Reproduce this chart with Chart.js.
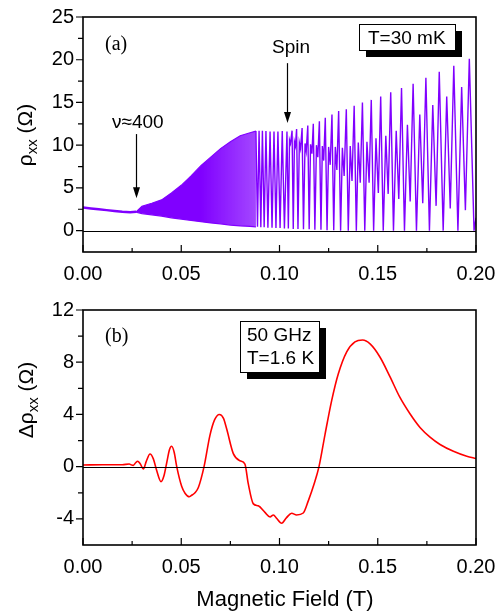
<!DOCTYPE html>
<html lang="en">
<head>
<meta charset="UTF-8">
<title>Magnetoresistance and microwave photoresistance</title>
<style>
body { margin: 0; background: #fff; }
#wrap { position: relative; width: 498px; height: 614px; }
#wrap canvas { position: absolute; left: 0; }
#chartA { top: 0; }
#chartB { top: 290px; }
</style>
</head>
<body>
<div id="wrap">
<canvas id="chartA" width="498" height="290"></canvas>
<canvas id="chartB" width="498" height="324"></canvas>
</div>
<script src="https://cdn.jsdelivr.net/npm/chart.js@4.4.0/dist/chart.umd.min.js"></script>
<script>
// axis ticks
var xMajor = [0, 0.05, 0.10, 0.15, 0.20];
var xMinor = [0.025, 0.075, 0.125, 0.175];
var yMajorA = [0, 5, 10, 15, 20, 25];
var yMinorA = [2.5, 7.5, 12.5, 17.5, 22.5];
var yMajorB = [-4, 0, 4, 8, 12];
var yMinorB = [-2, 2, 6, 10];

// (a) rho_xx at 30 mK : low field part, before oscillations show up
var lowField = [0, 0.004, 0.008, 0.012, 0.016, 0.020, 0.024, 0.027];
var lowRho   = [2.7, 2.6, 2.5, 2.4, 2.3, 2.2, 2.15, 2.2];

// dense SdH region, upper and lower envelope
var bandField = [0.027, 0.030, 0.035, 0.040, 0.045, 0.050, 0.055, 0.060, 0.065, 0.070, 0.075, 0.080, 0.085, 0.088];
var bandUpper = [2.2, 2.85, 3.2, 3.6, 4.4, 5.3, 6.4, 7.6, 8.6, 9.6, 10.4, 11.1, 11.45, 11.65];
var bandLower = [2.15, 2.0, 1.85, 1.7, 1.5, 1.35, 1.2, 1.05, 0.9, 0.8, 0.65, 0.55, 0.5, 0.45];

// resolved oscillations (maxima / minima, spin split above ~0.104 T)
var oscField = [
  0.0880, 0.0888, 0.0896, 0.0905, 0.0913, 0.0922, 0.0931, 0.0941, 0.0952, 0.0962,
  0.0972, 0.0982, 0.0992, 0.1003, 0.1014, 0.1025, 0.1038,
  0.1045, 0.1051, 0.1056, 0.1064,
  0.1070, 0.1076, 0.1081, 0.1087,
  0.1094, 0.1101, 0.1107, 0.1115,
  0.1122, 0.1130, 0.1136, 0.1144,
  0.1151, 0.1158, 0.1165, 0.1172,
  0.1180, 0.1188, 0.1195, 0.1203,
  0.1211, 0.1218, 0.1225, 0.1233,
  0.1242, 0.1250, 0.1258, 0.1267,
  0.1276, 0.1284, 0.1292, 0.1301,
  0.1311, 0.1320, 0.1329, 0.1340,
  0.1350, 0.1360, 0.1369, 0.1380,
  0.1391, 0.1401, 0.1411, 0.1422,
  0.1434, 0.1445, 0.1456, 0.1467,
  0.1479, 0.1491, 0.1503, 0.1515,
  0.1528, 0.1541, 0.1553, 0.1566,
  0.1580, 0.1594, 0.1607, 0.1621,
  0.1636, 0.1651, 0.1665, 0.1680,
  0.1697, 0.1714, 0.1729, 0.1745,
  0.1763, 0.1780, 0.1797, 0.1813,
  0.1833, 0.1851, 0.1869, 0.1887,
  0.1908, 0.1927, 0.1946, 0.1966,
  0.1990, 0.2000
];
var oscRho = [
  11.65, 0.45, 11.7, 0.4, 11.7, 0.4, 11.65, 0.35, 11.6, 0.35,
  11.6, 0.3, 11.6, 0.3, 11.65, 0.25, 11.6,
  0.25, 10.6, 10.2, 11.7,
  0.2, 10.4, 9.9, 11.9,
  0.2, 10.3, 9.6, 12.0,
  0.15, 10.2, 9.3, 12.3,
  0.15, 10.1, 9.0, 12.5,
  0.1, 10.0, 8.6, 12.8,
  0.1, 9.9, 8.2, 13.2,
  0.05, 9.8, 7.7, 13.6,
  0.05, 9.8, 7.1, 14.0,
  0, 9.7, 6.4, 14.2,
  0, 9.9, 5.8, 14.6,
  0, 10.3, 5.6, 15.0,
  0, 10.4, 5.6, 15.3,
  0, 10.8, 4.4, 15.7,
  0, 11.1, 4.3, 16.2,
  0, 11.7, 3.7, 16.7,
  0, 12.4, 3.4, 17.2,
  0, 13.6, 3.2, 17.9,
  0, 14.7, 2.9, 18.6,
  0, 15.7, 2.6, 19.3,
  0, 16.8, 2.4, 20.1,
  0, 1.5
];

// (b) delta rho_xx under 50 GHz, 1.6 K
var fieldB = [
  0, 0.010, 0.020, 0.0235, 0.0248, 0.0256, 0.0268, 0.0278, 0.0292, 0.0307,
  0.0322, 0.0341, 0.0358, 0.0375, 0.0397, 0.0412, 0.0426, 0.0440, 0.0451, 0.0464,
  0.0477, 0.0502, 0.0520, 0.0541, 0.0557, 0.0570, 0.0587, 0.0616, 0.0646, 0.0670,
  0.0694, 0.0715, 0.0731, 0.0765, 0.0799, 0.0824, 0.0841, 0.0867, 0.0892, 0.0926,
  0.0952, 0.0969, 0.0985, 0.1011, 0.1036, 0.1062, 0.1087, 0.1121, 0.1147, 0.1176,
  0.1201, 0.1232, 0.1266, 0.1299, 0.1342, 0.1384, 0.1423, 0.1461, 0.1511, 0.1562,
  0.1613, 0.1664, 0.1715, 0.1766, 0.1817, 0.1885, 0.1953, 0.2000
];
var dRho = [
  0.13, 0.15, 0.15, 0.2, 0.12, 0.1, 0.3, 0.42, 0.2, -0.18,
  0.4, 0.97, 0.6, -0.3, -1.15, -0.7, 0.3, 1.3, 1.56, 1.1,
  0.0, -1.5, -2.05, -2.3, -2.15, -2.0, -1.6, 0.0, 2.4, 3.6,
  4.0, 3.7, 2.9, 1.0, 0.45, 0.2, -1.3, -2.85, -3.0, -3.5,
  -3.85, -3.7, -3.95, -4.33, -3.9, -3.57, -3.7, -3.55, -2.6, -1.33,
  0.0, 2.5, 5.1, 7.1, 8.8, 9.56, 9.7, 9.4, 8.4, 6.9,
  5.3, 4.05, 3.0, 2.26, 1.7, 1.18, 0.8, 0.62
];

var SANS = "'Liberation Sans', Arial, sans-serif";
var PURPLE = '#8000ff';

function pts(xs, ys) {
  return xs.map(function(x, i) { return { x: x, y: ys[i] }; });
}

function scales(yMin, yMax, yMajor, xAxisHeight) {
  return {
    x: {
      type: 'linear', min: 0, max: 0.2,
      grid: { display: false, drawTicks: false },
      border: { display: false },
      afterBuildTicks: function(s) { s.ticks = xMajor.map(function(v) { return { value: v }; }); },
      afterFit: function(s) { s.height = xAxisHeight; s.paddingLeft = 0; s.paddingRight = 0; },
      ticks: {
        autoSkip: false, maxRotation: 0, padding: 10, color: '#000',
        font: { family: SANS, size: 20 },
        callback: function(v) { return v.toFixed(2); }
      }
    },
    y: {
      type: 'linear', min: yMin, max: yMax,
      grid: { display: false, drawTicks: false },
      border: { display: false },
      afterBuildTicks: function(s) { s.ticks = yMajor.map(function(v) { return { value: v }; }); },
      afterFit: function(s) { s.width = 83; s.paddingTop = 0; s.paddingBottom = 0; },
      ticks: { padding: 9, color: '#000', font: { family: SANS, size: 20 } }
    }
  };
}

// fill of the dense part: solid, then lighter where single periods start to separate
function bandFill(context) {
  var chart = context.chart, a = chart.chartArea;
  if (!a) return PURPLE;
  var xs = chart.scales.x;
  var g = chart.ctx.createLinearGradient(xs.getPixelForValue(0.060), 0, xs.getPixelForValue(0.088), 0);
  g.addColorStop(0, PURPLE);
  g.addColorStop(1, 'rgba(128,0,255,0.72)');
  return g;
}

// y title with subscript, rotated
function yTitle(ctx, pre, cx, cy) {
  var main = '21px ' + SANS, sub = '15px ' + SANS;
  ctx.save();
  ctx.translate(cx, cy);
  ctx.rotate(-Math.PI / 2);
  ctx.fillStyle = '#000';
  ctx.textBaseline = 'alphabetic';
  ctx.font = main;
  var w1 = ctx.measureText(pre).width, w3 = ctx.measureText(' (\u03A9)').width;
  ctx.font = sub;
  var w2 = ctx.measureText('xx').width;
  var x = -(w1 + w2 + w3) / 2;
  ctx.font = main;
  ctx.fillText(pre, x, 7);
  ctx.font = sub;
  ctx.fillText('xx', x + w1, 12);
  ctx.font = main;
  ctx.fillText(' (\u03A9)', x + w1 + w2, 7);
  ctx.restore();
}

function arrow(ctx, x, y1, y2) {
  ctx.strokeStyle = '#000';
  ctx.fillStyle = '#000';
  ctx.lineWidth = 1.2;
  ctx.beginPath();
  ctx.moveTo(x, y1);
  ctx.lineTo(x, y2 - 8);
  ctx.stroke();
  ctx.beginPath();
  ctx.moveTo(x - 3.5, y2 - 11);
  ctx.lineTo(x + 3.5, y2 - 11);
  ctx.lineTo(x, y2);
  ctx.closePath();
  ctx.fill();
}

function shadowBox(ctx, x, y, w, h, lines) {
  ctx.fillStyle = '#000';
  ctx.fillRect(x + 7, y + 7, w, h);
  ctx.fillStyle = '#fff';
  ctx.fillRect(x, y, w, h);
  ctx.strokeStyle = '#000';
  ctx.lineWidth = 1;
  ctx.strokeRect(x + 0.5, y + 0.5, w, h);
  ctx.fillStyle = '#000';
  ctx.font = '19px ' + SANS;
  ctx.textBaseline = 'alphabetic';
  ctx.textAlign = 'left';
  lines.forEach(function(l) { ctx.fillText(l[0], x + l[1], y + l[2]); });
}

function decor(yMinor, extra) {
  return {
    id: 'decor',
    afterDatasetsDraw: function(chart) {
      var ctx = chart.ctx, a = chart.chartArea;
      var xs = chart.scales.x, ys = chart.scales.y;
      ctx.save();
      ctx.strokeStyle = '#000';
      // zero line
      ctx.lineWidth = 1;
      var y0 = Math.round(ys.getPixelForValue(0)) + 0.5;
      ctx.beginPath();
      ctx.moveTo(a.left, y0);
      ctx.lineTo(a.right, y0);
      ctx.stroke();
      // x ticks point inward, y ticks outward
      ctx.lineWidth = 1.2;
      ctx.beginPath();
      xMajor.forEach(function(v) {
        var p = xs.getPixelForValue(v);
        ctx.moveTo(p, a.bottom); ctx.lineTo(p, a.bottom - 7);
      });
      xMinor.forEach(function(v) {
        var p = xs.getPixelForValue(v);
        ctx.moveTo(p, a.bottom); ctx.lineTo(p, a.bottom - 4);
      });
      ys.ticks.forEach(function(t) {
        var p = ys.getPixelForValue(t.value);
        ctx.moveTo(a.left, p); ctx.lineTo(a.left - 7, p);
      });
      yMinor.forEach(function(v) {
        var p = ys.getPixelForValue(v);
        ctx.moveTo(a.left, p); ctx.lineTo(a.left - 5, p);
      });
      ctx.stroke();
      // frame
      ctx.lineWidth = 1.6;
      ctx.strokeRect(a.left, a.top, a.right - a.left, a.bottom - a.top);
      extra(ctx, xs, ys, a);
      ctx.restore();
    }
  };
}

var common = {
  responsive: false,
  animation: false,
  events: [],
  elements: { point: { radius: 0 }, line: { tension: 0 } },
  plugins: { legend: { display: false }, tooltip: { enabled: false } }
};

new Chart(document.getElementById('chartA'), {
  type: 'line',
  data: {
    datasets: [
      { data: pts(lowField, lowRho), borderColor: PURPLE, borderWidth: 2.5, fill: false },
      { data: pts(bandField, bandUpper), borderColor: PURPLE, borderWidth: 1.2, backgroundColor: bandFill, fill: '+1' },
      { data: pts(bandField, bandLower), borderColor: PURPLE, borderWidth: 1.2, fill: false },
      { data: pts(oscField, oscRho), borderColor: PURPLE, borderWidth: 1.4, fill: false }
    ]
  },
  options: Object.assign({}, common, {
    layout: { padding: { top: 17, right: 22, left: 0, bottom: 0 } },
    scales: scales(-2.5, 25, yMajorA, 38)
  }),
  plugins: [decor(yMinorA, function(ctx, xs, ys) {
    ctx.fillStyle = '#000';
    ctx.textAlign = 'left';
    ctx.textBaseline = 'alphabetic';
    ctx.font = "20px 'Liberation Serif', 'Times New Roman', serif";
    ctx.fillText('(a)', 105, 50);
    ctx.font = '19px ' + SANS;
    ctx.fillText('\u03BD\u2248400', 112, 128);
    ctx.fillText('Spin', 272, 53);
    arrow(ctx, Math.round(xs.getPixelForValue(0.0271)) + 0.5, ys.getPixelForValue(11.3), ys.getPixelForValue(3.8));
    arrow(ctx, Math.round(xs.getPixelForValue(0.1038)) + 0.5, ys.getPixelForValue(19.6), ys.getPixelForValue(12.6));
    shadowBox(ctx, 359, 24, 96, 26, [['T=30 mK', 9, 20]]);
    yTitle(ctx, '\u03C1', 25, 135);
  })]
});

new Chart(document.getElementById('chartB'), {
  type: 'line',
  data: {
    datasets: [
      { data: pts(fieldB, dRho), borderColor: '#ff0000', borderWidth: 1.6, fill: false, cubicInterpolationMode: 'monotone' }
    ]
  },
  options: Object.assign({}, common, {
    layout: { padding: { top: 20, right: 22, left: 0, bottom: 0 } },
    scales: scales(-6, 12, yMajorB, 69)
  }),
  plugins: [decor(yMinorB, function(ctx, xs, ys) {
    ctx.fillStyle = '#000';
    ctx.textAlign = 'left';
    ctx.textBaseline = 'alphabetic';
    ctx.font = "20px 'Liberation Serif', 'Times New Roman', serif";
    ctx.fillText('(b)', 105, 52);
    shadowBox(ctx, 240, 31, 79, 51, [['50 GHz', 7, 20], ['T=1.6 K', 7, 43]]);
    yTitle(ctx, '\u0394\u03C1', 26, 110);
    ctx.fillStyle = '#000';
    ctx.font = '22px ' + SANS;
    ctx.textAlign = 'center';
    ctx.fillText('Magnetic Field (T)', 285, 316);
  })]
});
</script>
</body>
</html>
